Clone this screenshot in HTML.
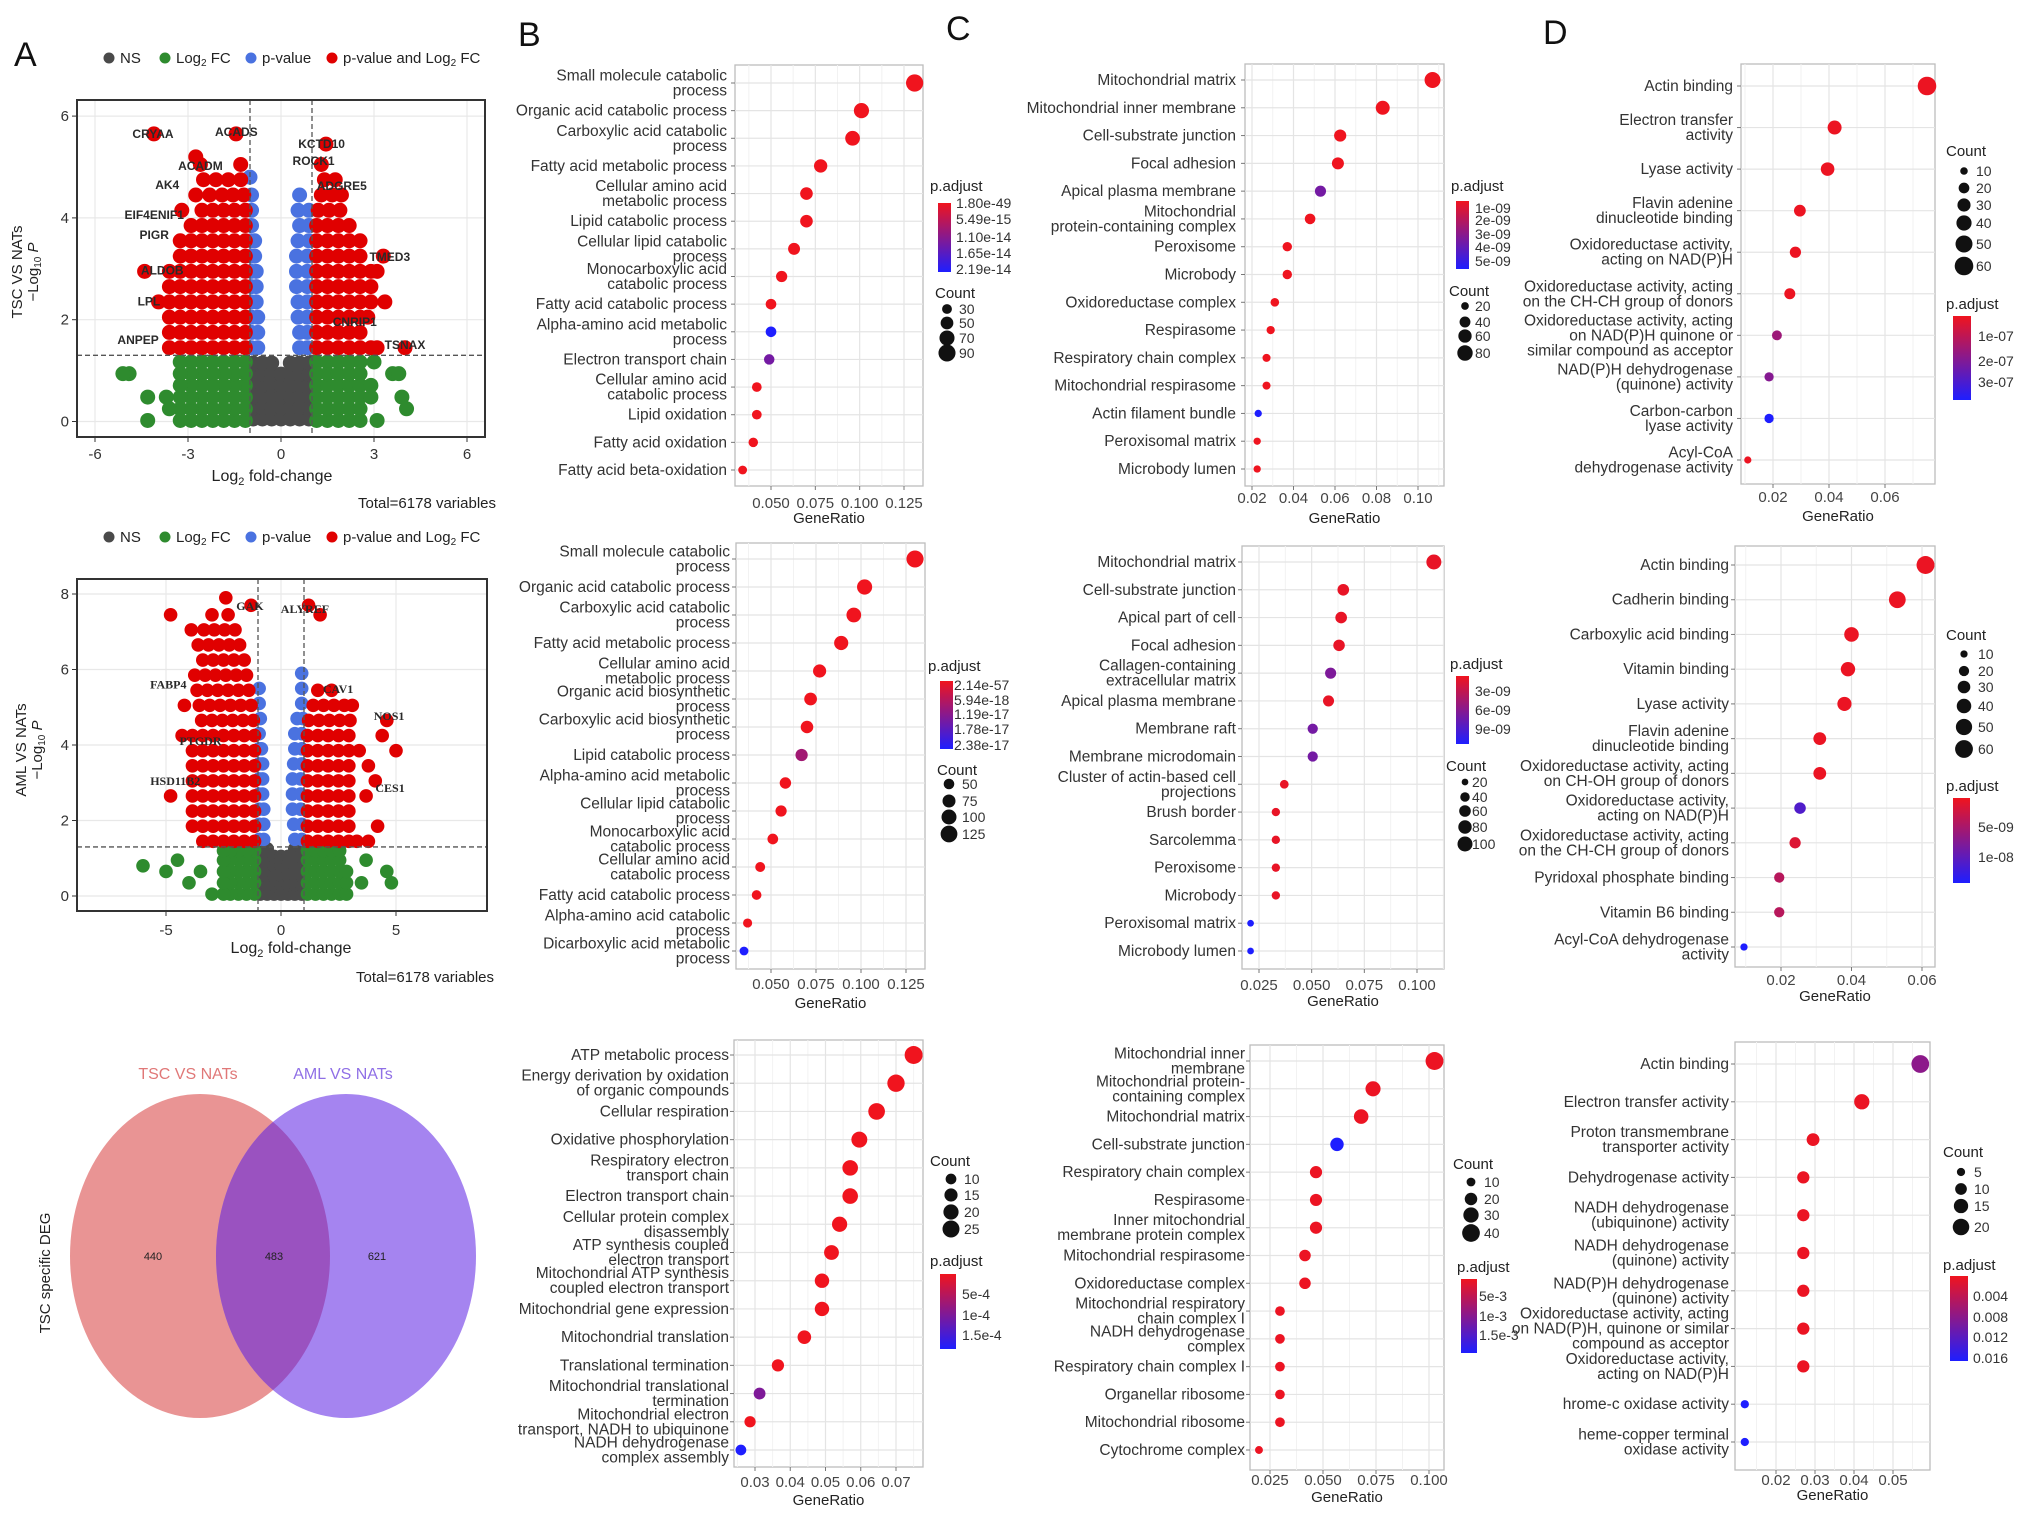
<!DOCTYPE html>
<html><head><meta charset="utf-8"><style>
html,body{margin:0;padding:0;background:#fff;}
svg{display:block;font-family:"Liberation Sans",Arial,sans-serif;}
</style></head><body>
<svg id="fig" width="2032" height="1521" viewBox="0 0 2032 1521" xmlns="http://www.w3.org/2000/svg">
<defs>
<linearGradient id="pgrad" x1="0" y1="0" x2="0" y2="1"><stop offset="0" stop-color="#f0141e"/><stop offset="1" stop-color="#1e1eff"/></linearGradient>
<clipPath id="vennClip"><ellipse cx="200" cy="1256" rx="130" ry="162"/></clipPath>
</defs>
<g font-size="34" fill="#111">
<text x="14" y="66">A</text>
<text x="518" y="46">B</text>
<text x="946" y="40">C</text>
<text x="1543" y="44">D</text>
</g>
<g>
<ellipse cx="200" cy="1256" rx="130" ry="162" fill="#e99494"/>
<ellipse cx="346" cy="1256" rx="130" ry="162" fill="#a584f0"/>
<ellipse cx="346" cy="1256" rx="130" ry="162" fill="#9a52c0" clip-path="url(#vennClip)"/>
<text x="188" y="1079" font-size="16" fill="#e07878" text-anchor="middle">TSC VS NATs</text>
<text x="343" y="1079" font-size="16" fill="#8f6fe6" text-anchor="middle">AML VS NATs</text>
<text x="153" y="1260" font-size="11" text-anchor="middle" fill="#222">440</text>
<text x="274" y="1260" font-size="11" text-anchor="middle" fill="#222">483</text>
<text x="377" y="1260" font-size="11" text-anchor="middle" fill="#222">621</text>
<text transform="translate(50,1273) rotate(-90)" font-size="15" text-anchor="middle" fill="#222">TSC specific DEG</text>
</g>
</svg>
<script>
// ---------------- DATA ----------------
const topNSRows=[[0.05,[-0.9,-0.6,-0.3,0,0.3,0.6,0.9]],[0.27,[-0.9,-0.6,-0.3,0,0.3,0.6,0.9]],[0.49,[-0.9,-0.6,-0.3,0,0.3,0.6,0.9]],[0.71,[-0.9,-0.6,-0.3,0,0.3,0.6,0.9]],[0.93,[-0.9,-0.6,-0.3,0,0.3,0.6,0.9]],[1.15,[-0.9,-0.6,-0.3,0.3,0.6,0.9]]];
const topFCRows=[[0.02,[-1.15,-1.5,-1.85,-2.2,-2.55,-2.9,-3.25,-4.3,1.15,1.5,1.85,2.2,2.55,3.1]],[0.25,[-1.15,-1.5,-1.85,-2.2,-2.55,-2.9,-3.25,-3.6,1.15,1.5,1.85,2.2,2.55,4.05]],[0.48,[-1.15,-1.5,-1.85,-2.2,-2.55,-2.9,-3.25,-3.7,-4.3,1.15,1.5,1.85,2.2,2.55,2.9,3.9]],[0.71,[-1.15,-1.5,-1.85,-2.2,-2.55,-2.9,-3.25,1.15,1.5,1.85,2.2,2.55,2.9]],[0.94,[-1.15,-1.5,-1.85,-2.2,-2.55,-2.9,-3.25,-4.9,-5.1,1.15,1.5,1.85,2.2,2.55,3.6,3.8]],[1.17,[-1.15,-1.5,-1.85,-2.2,-2.55,-2.9,-3.25,1.15,1.5,1.85,2.2,2.55,3.0]]];
const topPRows=[[1.45,[-0.95,-0.75,0.6,0.85]],[1.75,[-0.95,-0.75,0.6,0.85]],[2.05,[-0.95,-0.75,0.55,0.85]],[2.35,[-0.95,-0.8,0.55,0.85]],[2.65,[-0.95,-0.8,0.5,0.85]],[2.95,[-0.95,-0.8,0.5,0.85]],[3.25,[-0.95,-0.85,0.5,0.85]],[3.55,[-0.95,-0.85,0.55,0.9]],[3.85,[-0.95,0.6,0.9]],[4.15,[-0.95,0.55,0.9]],[4.45,[-0.95,0.6]],[4.8,[-1.0]]];
const topSigRows=[[1.45,[-1.15,-1.5,-1.85,-2.2,-2.55,-2.9,-3.25,-3.6,1.15,1.5,1.85,2.2,2.55,2.9,3.1,4.0]],[1.75,[-1.15,-1.5,-1.85,-2.2,-2.55,-2.9,-3.25,-3.6,1.15,1.5,1.85,2.2,2.55]],[2.05,[-1.15,-1.5,-1.85,-2.2,-2.55,-2.9,-3.25,-3.6,1.15,1.5,1.85,2.2,2.55,2.8]],[2.35,[-1.15,-1.5,-1.85,-2.2,-2.55,-2.9,-3.25,-3.6,-3.95,1.15,1.5,1.85,2.2,2.55,2.9,3.35]],[2.65,[-1.15,-1.5,-1.85,-2.2,-2.55,-2.9,-3.25,-3.6,1.15,1.5,1.85,2.2,2.55,2.9]],[2.95,[-1.15,-1.5,-1.85,-2.2,-2.55,-2.9,-3.25,-3.6,-4.4,1.15,1.5,1.85,2.2,2.55,2.9,3.1]],[3.25,[-1.15,-1.5,-1.85,-2.2,-2.55,-2.9,-3.25,1.15,1.5,1.85,2.2,2.55,3.3]],[3.55,[-1.15,-1.5,-1.85,-2.2,-2.55,-2.9,-3.25,1.15,1.5,1.85,2.2,2.55]],[3.85,[-1.15,-1.5,-1.85,-2.2,-2.55,-2.9,1.15,1.5,1.85,2.2]],[4.15,[-1.15,-1.5,-1.85,-2.2,-2.55,-3.2,1.2,1.55,1.9]],[4.45,[-1.2,-1.55,-1.9,-2.3,-2.75,1.3,1.65,1.95]],[4.75,[-1.3,-1.7,-2.1,-2.5,1.4,1.75]],[5.05,[-1.3,-2.6,1.3]],[5.2,[-2.75]],[5.45,[1.45]],[5.65,[-4.1,-1.45]]];
const topGenes=['CRYAA','ACADS','KCTD10','ROCK1','ACADM','AK4','ADGRE5','EIF4ENIF1','PIGR','ALDOB','LPL','TMED3','CNRIP1','ANPEP','TSNAX'];
const topGeneX=[-4.13,-1.44,1.31,1.05,-2.6,-3.67,1.96,-4.09,-4.09,-3.83,-4.26,3.51,2.38,-4.61,4.0];
const topGeneY=[5.65,5.69,5.45,5.12,5.02,4.65,4.63,4.06,3.66,2.97,2.36,3.23,1.95,1.6,1.5];
const topXTicks=[-6,-3,0,3,6];
const topYTicks=[0,2,4,6];
const midNSRows=[[0.05,[-0.9,-0.6,-0.3,0,0.3,0.6,0.9]],[0.3,[-0.9,-0.6,-0.3,0,0.3,0.6,0.9]],[0.55,[-0.9,-0.6,-0.3,0,0.3,0.6,0.9]],[0.8,[-0.9,-0.6,-0.3,0,0.3,0.6,0.9]],[1.05,[-0.9,-0.6,-0.3,0,0.3,0.6,0.9]],[1.25,[-0.9,-0.6,0.6,0.9]]];
const midFCRows=[[0.05,[-1.15,-1.5,-1.85,-2.2,-2.5,-3.0,1.15,1.5,1.85,2.2,2.55,2.85]],[0.35,[-1.15,-1.5,-1.85,-2.2,-2.5,-4.0,1.15,1.5,1.85,2.2,2.55,2.85,3.5,4.8]],[0.65,[-1.15,-1.5,-1.85,-2.2,-2.5,-3.5,-5.0,1.15,1.5,1.85,2.2,2.55,2.85,4.6]],[0.8,[-6.0]],[0.95,[-1.15,-1.5,-1.85,-2.2,-2.5,-4.5,1.15,1.5,1.85,2.2,2.55,3.7]],[1.2,[-1.15,-1.5,-1.85,-2.2,-2.5,1.15,1.5,1.85,2.2,2.55]]];
const midPRows=[[1.5,[-0.95,-0.75,0.6,0.9]],[1.9,[-0.95,-0.75,0.55,0.9]],[2.3,[-0.95,-0.75,0.5,0.85]],[2.7,[-0.95,-0.8,0.5,0.85]],[3.1,[-0.95,-0.8,0.5,0.85]],[3.5,[-0.95,-0.8,0.55,0.9]],[3.9,[-0.95,-0.85,0.6,0.9]],[4.3,[-0.95,0.6,0.9]],[4.7,[-0.9,0.7,0.95]],[5.1,[-0.95,0.9]],[5.5,[-0.95,0.9]],[5.9,[0.9]]];
const midSigRows=[[1.45,[-1.15,-1.6,-2.05,-2.5,-2.95,-3.4,1.15,1.6,2.05,2.5,2.95,3.3,3.8]],[1.85,[-1.15,-1.6,-2.05,-2.5,-2.95,-3.4,-3.85,1.15,1.6,2.05,2.5,2.95,4.2]],[2.25,[-1.15,-1.6,-2.05,-2.5,-2.95,-3.4,-3.85,1.15,1.6,2.05,2.5,2.95]],[2.65,[-1.15,-1.6,-2.05,-2.5,-2.95,-3.4,-3.85,-4.8,1.15,1.6,2.05,2.5,2.95,3.7]],[3.05,[-1.15,-1.6,-2.05,-2.5,-2.95,-3.4,-3.85,1.15,1.6,2.05,2.5,2.95,4.1]],[3.45,[-1.15,-1.6,-2.05,-2.5,-2.95,-3.4,-3.85,1.15,1.6,2.05,2.5,2.95,3.8]],[3.85,[-1.15,-1.6,-2.05,-2.5,-2.95,-3.4,-3.85,1.15,1.6,2.05,2.5,2.95,3.4,5.0]],[4.25,[-1.15,-1.6,-2.05,-2.5,-2.95,-3.4,-3.85,-4.3,1.15,1.6,2.05,2.5,2.95,4.4]],[4.65,[-1.2,-1.65,-2.1,-2.55,-3.0,-3.45,1.2,1.65,2.1,2.55,3.0,4.6]],[5.05,[-1.3,-1.75,-2.2,-2.65,-3.1,-3.55,-4.2,1.4,1.85,2.3,2.75,3.1]],[5.45,[-1.4,-1.85,-2.3,-2.75,-3.2,-3.65,1.6,2.2]],[5.85,[-1.5,-1.95,-2.4,-2.85,-3.3,-3.75]],[6.25,[-1.6,-2.05,-2.5,-2.95,-3.4]],[6.65,[-1.8,-2.25,-2.7,-3.15,-3.6]],[7.05,[-2.0,-2.45,-2.9,-3.35,-3.9]],[7.45,[-2.3,-3.0,-4.8,1.7]],[7.7,[-1.3,1.2]],[7.9,[-2.4]]];
const midGenes=['GAK','ALYREF','NOS1','HSD11B2','CAV1','CES1','FABP4','PTGDR'];
const midGeneX=[-1.35,1.04,4.7,-4.6,2.48,4.74,-4.9,-3.5];
const midGeneY=[7.68,7.6,4.77,3.05,5.48,2.86,5.6,4.1];
const midXTicks=[-5,0,5];
const midYTicks=[0,2,4,6,8];

const bTopTerms=["Small molecule catabolic\nprocess","Organic acid catabolic process","Carboxylic acid catabolic\nprocess","Fatty acid metabolic process","Cellular amino acid\nmetabolic process","Lipid catabolic process","Cellular lipid catabolic\nprocess","Monocarboxylic acid\ncatabolic process","Fatty acid catabolic process","Alpha-amino acid metabolic\nprocess","Electron transport chain","Cellular amino acid\ncatabolic process","Lipid oxidation","Fatty acid oxidation","Fatty acid beta-oxidation"];
const bTopRatio=[0.131,0.101,0.096,0.078,0.070,0.070,0.063,0.056,0.050,0.050,0.049,0.042,0.042,0.040,0.034];
const bTopCount=[92,71,67,55,49,49,44,39,35,35,34,29,29,28,24];
const bTopPadj=[1e-20,1e-20,1e-20,1e-20,1e-20,1e-20,1e-20,1e-20,1e-20,2.2e-14,1.3e-14,1e-20,1e-20,1e-20,1e-20];
const bTopTicks=[0.05,0.075,0.1,0.125];
const bTopTickLabels=["0.050","0.075","0.100","0.125"];
const bTopPLabels=["1.80e-49","5.49e-15","1.10e-14","1.65e-14","2.19e-14"];
const bTopCountLegend=[30,50,70,90];
const cTopTerms=["Mitochondrial matrix","Mitochondrial inner membrane","Cell-substrate junction","Focal adhesion","Apical plasma membrane","Mitochondrial\nprotein-containing complex","Peroxisome","Microbody","Oxidoreductase complex","Respirasome","Respiratory chain complex","Mitochondrial respirasome","Actin filament bundle","Peroxisomal matrix","Microbody lumen"];
const cTopRatio=[0.107,0.083,0.0625,0.0614,0.053,0.048,0.037,0.037,0.031,0.029,0.027,0.027,0.023,0.0225,0.0225];
const cTopCount=[86,66,50,49,42,38,30,30,25,23,22,22,18,18,18];
const cTopPadj=[5e-10,5e-10,5e-10,5e-10,3.5e-9,5e-10,5e-10,5e-10,5e-10,5e-10,5e-10,5e-10,5.6e-9,5e-10,5e-10];
const cTopTicks=[0.02,0.04,0.06,0.08,0.10];
const cTopTickLabels=["0.02","0.04","0.06","0.08","0.10"];
const cTopPLabels=["1e-09","2e-09","3e-09","4e-09","5e-09"];
const cTopCountLegend=[20,40,60,80];
const dTopTerms=["Actin binding","Electron transfer\nactivity","Lyase activity","Flavin adenine\ndinucleotide binding","Oxidoreductase activity,\nacting on NAD(P)H","Oxidoreductase activity, acting\non the CH-CH group of donors","Oxidoreductase activity, acting\non NAD(P)H quinone or\nsimilar compound as acceptor","NAD(P)H dehydrogenase\n(quinone) activity","Carbon-carbon\nlyase activity","Acyl-CoA\ndehydrogenase activity"];
const dTopRatio=[0.075,0.042,0.0395,0.0296,0.028,0.026,0.0214,0.0186,0.0186,0.011];
const dTopCount=[60,34,32,24,22,21,17,15,15,9];
const dTopPadj=[2e-8,2e-8,2e-8,2e-8,2e-8,2e-8,1.6e-7,2e-7,3.8e-7,2e-8];
const dTopTicks=[0.02,0.04,0.06];
const dTopTickLabels=["0.02","0.04","0.06"];
const dTopPLabels=["1e-07","2e-07","3e-07"];
const dTopCountLegend=[10,20,30,40,50,60];
const bMidTerms=["Small molecule catabolic\nprocess","Organic acid catabolic process","Carboxylic acid catabolic\nprocess","Fatty acid metabolic process","Cellular amino acid\nmetabolic process","Organic acid biosynthetic\nprocess","Carboxylic acid biosynthetic\nprocess","Lipid catabolic process","Alpha-amino acid metabolic\nprocess","Cellular lipid catabolic\nprocess","Monocarboxylic acid\ncatabolic process","Cellular amino acid\ncatabolic process","Fatty acid catabolic process","Alpha-amino acid catabolic\nprocess","Dicarboxylic acid metabolic\nprocess"];
const bMidRatio=[0.130,0.102,0.096,0.089,0.077,0.072,0.070,0.067,0.058,0.0556,0.051,0.044,0.042,0.037,0.035];
const bMidCount=[130,102,96,89,77,72,70,67,58,56,51,44,42,37,35];
const bMidPadj=[1e-20,1e-20,1e-20,1e-20,1e-20,1e-20,1e-20,0.9e-17,1e-20,1e-20,1e-20,1e-20,1e-20,1e-20,2.4e-17];
const bMidTicks=[0.05,0.075,0.1,0.125];
const bMidTickLabels=["0.050","0.075","0.100","0.125"];
const bMidPLabels=["2.14e-57","5.94e-18","1.19e-17","1.78e-17","2.38e-17"];
const bMidCountLegend=[50,75,100,125];
const cMidTerms=["Mitochondrial matrix","Cell-substrate junction","Apical part of cell","Focal adhesion","Callagen-containing\nextracellular matrix","Apical plasma membrane","Membrane raft","Membrane microdomain","Cluster of actin-based cell\nprojections","Brush border","Sarcolemma","Peroxisome","Microbody","Peroxisomal matrix","Microbody lumen"];
const cMidRatio=[0.108,0.065,0.064,0.063,0.059,0.058,0.0505,0.0505,0.037,0.033,0.033,0.033,0.033,0.021,0.021];
const cMidCount=[100,60,60,59,55,54,47,47,34,31,31,31,31,20,20];
const cMidPadj=[1e-9,1e-9,1e-9,1e-9,6.5e-9,1e-9,7e-9,7e-9,1e-9,1e-9,1e-9,1e-9,1e-9,11.4e-9,11.4e-9];
const cMidTicks=[0.025,0.05,0.075,0.1];
const cMidTickLabels=["0.025","0.050","0.075","0.100"];
const cMidPLabels=["3e-09","6e-09","9e-09"];
const cMidCountLegend=[20,40,60,80,100];
const dMidTerms=["Actin binding","Cadherin binding","Carboxylic acid binding","Vitamin binding","Lyase activity","Flavin adenine\ndinucleotide binding","Oxidoreductase activity, acting\non CH-OH group of donors","Oxidoreductase activity,\nacting on NAD(P)H","Oxidoreductase activity, acting\non the CH-CH group of donors","Pyridoxal phosphate binding","Vitamin B6 binding","Acyl-CoA dehydrogenase\nactivity"];
const dMidRatio=[0.061,0.053,0.040,0.039,0.038,0.031,0.031,0.0254,0.024,0.0195,0.0195,0.0095];
const dMidCount=[61,53,40,39,38,31,31,25,24,20,20,10];
const dMidPadj=[5e-10,5e-10,5e-10,5e-10,5e-10,5e-10,5e-10,1.1e-8,1.5e-9,4e-9,4e-9,1.43e-8];
const dMidTicks=[0.02,0.04,0.06];
const dMidTickLabels=["0.02","0.04","0.06"];
const dMidPLabels=["5e-09","1e-08"];
const dMidCountLegend=[10,20,30,40,50,60];
const bBotTerms=["ATP metabolic process","Energy derivation by oxidation\nof organic compounds","Cellular respiration","Oxidative phosphorylation","Respiratory electron\ntransport chain","Electron transport chain","Cellular protein complex\ndisassembly","ATP synthesis coupled\nelectron transport","Mitochondrial ATP synthesis\ncoupled electron transport","Mitochondrial gene expression","Mitochondrial translation","Translational termination","Mitochondrial translational\ntermination","Mitochondrial electron\ntransport, NADH to ubiquinone","NADH dehydrogenase\ncomplex assembly"];
const bBotRatio=[0.075,0.070,0.0645,0.0596,0.057,0.057,0.054,0.0517,0.049,0.049,0.044,0.0365,0.0313,0.0286,0.026];
const bBotCount=[28,26,24,22,21,21,20,19,18,18,16,13,12,11,10];
const bBotPadj=[1e-6,1e-6,1e-6,1e-6,1e-6,1e-6,1e-6,1e-6,1e-6,1e-6,1e-6,1e-6,1.0e-4,1e-6,1.84e-4];
const bBotTicks=[0.03,0.04,0.05,0.06,0.07];
const bBotTickLabels=["0.03","0.04","0.05","0.06","0.07"];
const bBotPLabels=["5e-4","1e-4","1.5e-4"];
const bBotCountLegend=[10,15,20,25];
const cBotTerms=["Mitochondrial inner\nmembrane","Mitochondrial protein-\ncontaining complex","Mitochondrial matrix","Cell-substrate junction","Respiratory chain complex","Respirasome","Inner mitochondrial\nmembrane protein complex","Mitochondrial respirasome","Oxidoreductase complex","Mitochondrial respiratory\nchain complex I","NADH dehydrogenase\ncomplex","Respiratory chain complex I","Organellar ribosome","Mitochondrial ribosome","Cytochrome complex"];
const cBotRatio=[0.1026,0.0736,0.068,0.0566,0.0467,0.0467,0.0467,0.0415,0.0415,0.0297,0.0297,0.0297,0.0297,0.0297,0.0198];
const cBotCount=[41,29,27,23,19,19,19,17,17,12,12,12,12,12,8];
const cBotPadj=[1e-4,1e-4,1e-4,1.96e-3,1e-4,1e-4,1e-4,1e-4,1e-4,1e-4,1e-4,1e-4,1e-4,1e-4,1e-4];
const cBotTicks=[0.025,0.05,0.075,0.1];
const cBotTickLabels=["0.025","0.050","0.075","0.100"];
const cBotPLabels=["5e-3","1e-3","1.5e-3"];
const cBotCountLegend=[10,20,30,40];
const dBotTerms=["Actin binding","Electron transfer activity","Proton transmembrane\ntransporter activity","Dehydrogenase activity","NADH dehydrogenase\n(ubiquinone) activity","NADH dehydrogenase\n(quinone) activity","NAD(P)H dehydrogenase\n(quinone) activity","Oxidoreductase activity, acting\non NAD(P)H, quinone or similar\ncompound as acceptor","Oxidoreductase activity,\nacting on NAD(P)H","hrome-c oxidase activity","heme-copper terminal\noxidase activity"];
const dBotRatio=[0.057,0.042,0.0295,0.027,0.027,0.027,0.027,0.027,0.027,0.012,0.012];
const dBotCount=[23,17,12,11,11,11,11,11,11,5,5];
const dBotPadj=[0.008,0.0005,0.0005,0.0005,0.0005,0.0005,0.0005,0.0005,0.0005,0.0166,0.0166];
const dBotTicks=[0.02,0.03,0.04,0.05];
const dBotTickLabels=["0.02","0.03","0.04","0.05"];
const dBotPLabels=["0.004","0.008","0.012","0.016"];
const dBotCountLegend=[5,10,15,20];

// ---------------- DRAWING ----------------
const NS='http://www.w3.org/2000/svg';
const svg=document.getElementById('fig');
function mk(tag,attrs,parent){const e=document.createElementNS(NS,tag);for(const k in attrs)e.setAttribute(k,attrs[k]);(parent||svg).appendChild(e);return e;}
function colorAt(t){t=Math.max(0,Math.min(1,t));const r=Math.round(240*(1-t)+30*t),g=Math.round(20*(1-t)+30*t),b=Math.round(30*(1-t)+255*t);return `rgb(${r},${g},${b})`;}

function volcano(cfg,groups,genes,gx,gy,xt,yt){
  const g=mk('g',{});
  
  
  const sx=v=>cfg.x0+v*cfg.kx, sy=v=>cfg.y0-v*cfg.ky;
  const [bx0,bx1,by0,by1]=cfg.box;
  const bg=mk('rect',{x:bx0,y:by0,width:bx1-bx0,height:by1-by0,fill:'#fff'},g);
  
  
  for(const v of xt){const l=mk('line',{x1:sx(v),x2:sx(v),y1:by0,y2:by1,stroke:'#e8e8e8','stroke-width':1.2},g);
    
    }
  for(const v of yt){const l=mk('line',{x1:bx0,x2:bx1,y1:sy(v),y2:sy(v),stroke:'#e8e8e8','stroke-width':1.2},g);
    
    }
  for(const grp of groups){
    const gg=mk('g',{fill:grp.color},g);
    
    
    for(const row of grp.rows){for(const x of row[1]){
      const c=mk('circle',{cx:sx(x),cy:sy(row[0]),r:cfg.r},gg);
      
      }}
  }
  for(const v of [-1,1]){const l=mk('line',{x1:sx(v),x2:sx(v),y1:by0,y2:by1,stroke:'#555','stroke-dasharray':'5,3','stroke-width':1.3},g);
    
    }
  const hl=mk('line',{x1:bx0,x2:bx1,y1:sy(1.3),y2:sy(1.3),stroke:'#555','stroke-dasharray':'5,3','stroke-width':1.3},g);
  
  
  genes.forEach((nm,i)=>{const t=mk('text',{x:sx(gx[i]),y:sy(gy[i])+4,'font-size':12,'font-weight':'bold','text-anchor':'middle',fill:'#2a2a2a','font-family':cfg.geneFont},g);
    t.textContent=nm;
    
    });
  const fr=mk('rect',{x:bx0,y:by0,width:bx1-bx0,height:by1-by0,fill:'none',stroke:'#333','stroke-width':2},g);
  
  
  for(const v of xt){mk('line',{x1:sx(v),x2:sx(v),y1:by1,y2:by1+5,stroke:'#333'},g);
    const t=mk('text',{x:sx(v),y:cfg.xtY,'font-size':15,'text-anchor':'middle',fill:'#333'},g);
    t.textContent=String(v);
    
    }
  for(const v of yt){mk('line',{x1:bx0-5,x2:bx0,y1:sy(v),y2:sy(v),stroke:'#333'},g);
    const t=mk('text',{x:bx0-8,y:sy(v)+5,'font-size':15,'text-anchor':'end',fill:'#333'},g);
    t.textContent=String(v);
    
    }
  const xtl=mk('text',{x:cfg.xTitle[0],y:cfg.xTitle[1],'font-size':16,'text-anchor':'middle',fill:'#222'},g);
  xtl.innerHTML='Log<tspan font-size="11" dy="4">2</tspan><tspan dy="-4"> fold-change</tspan>';
  
  
  const yt1=mk('text',{transform:`translate(${cfg.yTitle[0]},${cfg.yTitle[1]}) rotate(-90)`,'font-size':15,'text-anchor':'middle',fill:'#222'},g);
  yt1.innerHTML=`<tspan x="0" y="0">${cfg.comp}</tspan><tspan x="0" y="16">−Log<tspan font-size="10" dy="3">10</tspan><tspan dy="-3" font-style="italic"> P</tspan></tspan>`;
  
  
  const tot=mk('text',{x:cfg.total[0],y:cfg.total[1],'font-size':15,'text-anchor':'end',fill:'#222'},g);
  tot.textContent='Total=6178 variables';
  
  
  const lg=mk('g',{'font-size':15,fill:'#222'},g);
  
  
  const items=[['#4a4a4a','NS',109],['#2e8b2e','Log2 FC',165],['#4a72e0','p-value',251],['#e00000','p-value and Log2 FC',332]];
  for(const it of items){
    const c=mk('circle',{cx:it[2],cy:cfg.legY,r:5.5,fill:it[0]},lg);
    
    
    const t=mk('text',{x:it[2]+11,y:cfg.legY+5},lg);
    if(it[1].indexOf('Log2')>=0){t.innerHTML=it[1].replace('Log2','Log<tspan font-size="10" dy="3">2</tspan><tspan dy="-3">')+'</tspan>';}else{t.textContent=it[1];}
    
    
  }
}

function dotChart(cfg,terms,ratio,count,padj,ticks,tickLabels,pLabels,cLegend){
  const g=mk('g',{});
  
  
  const [x0,x1,y0,y1]=cfg.box;
  const t0=ticks[0],t1=ticks[ticks.length-1];
  const sx=v=>cfg.p1+(v-t0)*(cfg.p2-cfg.p1)/(t1-t0);
  const n=terms.length;
  const sy=i=>cfg.r0+i*(cfg.r1-cfg.r0)/(n-1);
  const pc=v=>(v-cfg.pd[0])/(cfg.pd[1]-cfg.pd[0]);
  const bg=mk('rect',{x:x0,y:y0,width:x1-x0,height:y1-y0,fill:'#fff',stroke:'#bdbdbd','stroke-width':1.3},g);
  
  
  const step=(cfg.p2-cfg.p1)/(ticks.length-1);
  for(let k=-2;k<ticks.length+1;k++){const px=cfg.p1+(k+0.5)*step;if(px>x0&&px<x1){mk('line',{x1:px,x2:px,y1:y0,y2:y1,stroke:'#f2f2f2'},g);}}
  ticks.forEach((v,i)=>{const l=mk('line',{x1:sx(v),x2:sx(v),y1:y0,y2:y1,stroke:'#e4e4e4','stroke-width':1.2},g);
    
    
    mk('line',{x1:sx(v),x2:sx(v),y1:y1,y2:y1+4,stroke:'#777'},g);
    const t=mk('text',{x:sx(v),y:cfg.tickY,'font-size':15,'text-anchor':'middle',fill:'#444'},g);
    t.textContent=tickLabels[i];
    
    });
  const tt=mk('text',{x:(x0+x1)/2,y:cfg.titleY,'font-size':15,'text-anchor':'middle',fill:'#222'},g);
  tt.textContent='GeneRatio';
  
  
  terms.forEach((term,i)=>{
    const y=sy(i);
    const l=mk('line',{x1:x0,x2:x1,y1:y,y2:y,stroke:'#e4e4e4','stroke-width':1.2},g);
    
    
    mk('line',{x1:x0-4,x2:x0,y1:y,y2:y,stroke:'#777'},g);
    const lines=term.split('\n');
    const t=mk('text',{'font-size':15.5,'text-anchor':'end',fill:'#333'},g);
    lines.forEach((ln,j)=>{const ts=mk('tspan',{x:cfg.labelX,y:y+(j-(lines.length-1)/2)*15+5},t);ts.textContent=ln;});
    
    
  });
  terms.forEach((term,i)=>{
    const c=mk('circle',{cx:sx(ratio[i]),cy:sy(i),r:cfg.rs*Math.sqrt(count[i]),fill:colorAt(pc(padj[i]))},g);
    
    
  });
  const L=cfg.leg;
  const pt=mk('text',{x:L.pT[0],y:L.pT[1]+5,'font-size':15,fill:'#222'},g);
  pt.textContent='p.adjust';
  
  
  const bar=mk('rect',{x:L.bar[0],y:L.bar[1],width:L.bar[2]-L.bar[0],height:L.bar[3]-L.bar[1],fill:'url(#pgrad)'},g);
  
  
  pLabels.forEach((s,i)=>{const t=mk('text',{x:L.pLabX,y:L.pLabY[i]+5,'font-size':14,fill:'#333'},g);
    t.textContent=s;
    
    });
  const ct=mk('text',{x:L.cT[0],y:L.cT[1]+5,'font-size':15,fill:'#222'},g);
  ct.textContent='Count';
  
  
  cLegend.forEach((v,i)=>{const c=mk('circle',{cx:L.cDotX,cy:L.cDotY[i],r:cfg.rs*Math.sqrt(v),fill:'#111'},g);
    
    
    const t=mk('text',{x:L.cLabX,y:L.cDotY[i]+5,'font-size':14,fill:'#333'},g);
    t.textContent=String(v);
    
    });
}

volcano({name:'volcano-tsc',x0:281,kx:31,y0:421.5,ky:50.9,box:[77,485,100,437],r:7.5,xtY:459,yTitle:[22,272],comp:'TSC VS NATs',xTitle:[272,481],total:[496,508],legY:58,geneFont:'"Liberation Sans",sans-serif'},
 [{name:'ns-points',color:'#4a4a4a',rows:topNSRows},{name:'log2fc-points',color:'#2e8b2e',rows:topFCRows},{name:'pvalue-points',color:'#4a72e0',rows:topPRows},{name:'significant-points',color:'#e00000',rows:topSigRows}],
 topGenes,topGeneX,topGeneY,topXTicks,topYTicks);
volcano({name:'volcano-aml',x0:281,kx:23,y0:896,ky:37.75,box:[77,487,579,911],r:6.8,xtY:935,yTitle:[26,750],comp:'AML VS NATs',xTitle:[291,953],total:[494,982],legY:537,geneFont:'"Liberation Serif",serif'},
 [{name:'ns-points',color:'#4a4a4a',rows:midNSRows},{name:'log2fc-points',color:'#2e8b2e',rows:midFCRows},{name:'pvalue-points',color:'#4a72e0',rows:midPRows},{name:'significant-points',color:'#e00000',rows:midSigRows}],
 midGenes,midGeneX,midGeneY,midXTicks,midYTicks);

dotChart({name:'dotplot-b-top',box:[735,923,65,486],p1:771,p2:904,r0:83,r1:470,labelX:727,tickY:508,titleY:523,rs:0.9,pd:[0,2.2e-14],
 leg:{pT:[930,186],bar:[938,203,951,272],pLabX:956,pLabY:[203,219,237,253,269],cT:[935,293],cDotX:947,cDotY:[309,323,338,353],cLabX:959}},
 bTopTerms,bTopRatio,bTopCount,bTopPadj,bTopTicks,bTopTickLabels,bTopPLabels,bTopCountLegend);
dotChart({name:'dotplot-c-top',box:[1245,1444,64,486],p1:1252,p2:1418,r0:80,r1:469,labelX:1236,tickY:503,titleY:523,rs:0.86,pd:[0.47e-9,5.6e-9],
 leg:{pT:[1451,186],bar:[1456,201,1469,269],pLabX:1475,pLabY:[208,220,234,247,261],cT:[1449,291],cDotX:1465,cDotY:[306,322,336,353],cLabX:1475}},
 cTopTerms,cTopRatio,cTopCount,cTopPadj,cTopTicks,cTopTickLabels,cTopPLabels,cTopCountLegend);
dotChart({name:'dotplot-d-top',box:[1741,1935,64,484],p1:1773,p2:1885,r0:86,r1:460,labelX:1733,tickY:502,titleY:521,rs:1.2,pd:[0.13e-7,3.8e-7],
 leg:{pT:[1946,304],bar:[1953,316,1971,400],pLabX:1978,pLabY:[336,361,382],cT:[1946,151],cDotX:1964,cDotY:[171,188,205,223,244,266],cLabX:1976}},
 dTopTerms,dTopRatio,dTopCount,dTopPadj,dTopTicks,dTopTickLabels,dTopPLabels,dTopCountLegend);
dotChart({name:'dotplot-b-middle',box:[736,925,543,969],p1:771,p2:906,r0:559,r1:951,labelX:730,tickY:989,titleY:1008,rs:0.75,pd:[0,2.4e-17],
 leg:{pT:[928,666],bar:[940,681,953,749],pLabX:954,pLabY:[685,700,714,729,745],cT:[937,770],cDotX:949,cDotY:[784,801,817,834],cLabX:962}},
 bMidTerms,bMidRatio,bMidCount,bMidPadj,bMidTicks,bMidTickLabels,bMidPLabels,bMidCountLegend);
dotChart({name:'dotplot-c-middle',box:[1242,1444,546,969],p1:1259,p2:1417,r0:562,r1:951,labelX:1236,tickY:990,titleY:1006,rs:0.75,pd:[0.6e-9,11.4e-9],
 leg:{pT:[1450,664],bar:[1456,676,1469,744],pLabX:1475,pLabY:[691,710,729],cT:[1446,766],cDotX:1465,cDotY:[782,797,811,827,844],cLabX:1472}},
 cMidTerms,cMidRatio,cMidCount,cMidPadj,cMidTicks,cMidTickLabels,cMidPLabels,cMidCountLegend);
dotChart({name:'dotplot-d-middle',box:[1735,1935,546,967],p1:1781,p2:1922,r0:565,r1:947,labelX:1729,tickY:985,titleY:1001,rs:1.15,pd:[0.17e-9,1.43e-8],
 leg:{pT:[1946,786],bar:[1953,798,1970,883],pLabX:1978,pLabY:[827,857],cT:[1946,635],cDotX:1964,cDotY:[654,671,687,706,727,749],cLabX:1978}},
 dMidTerms,dMidRatio,dMidCount,dMidPadj,dMidTicks,dMidTickLabels,dMidPLabels,dMidCountLegend);
dotChart({name:'dotplot-b-bottom',box:[734,923,1040,1467],p1:755,p2:896,r0:1055,r1:1450,labelX:729,tickY:1487,titleY:1505,rs:1.7,pd:[0.012e-4,1.84e-4],
 leg:{pT:[930,1261],bar:[940,1274,956,1349],pLabX:962,pLabY:[1294,1315,1335],cT:[930,1161],cDotX:951,cDotY:[1179,1195,1212,1229],cLabX:964}},
 bBotTerms,bBotRatio,bBotCount,bBotPadj,bBotTicks,bBotTickLabels,bBotPLabels,bBotCountLegend);
dotChart({name:'dotplot-c-bottom',box:[1250,1444,1045,1470],p1:1270,p2:1429,r0:1061,r1:1450,labelX:1245,tickY:1485,titleY:1502,rs:1.4,pd:[0.06e-3,1.96e-3],
 leg:{pT:[1457,1267],bar:[1461,1279,1477,1353],pLabX:1479,pLabY:[1296,1316,1335],cT:[1453,1164],cDotX:1471,cDotY:[1182,1199,1215,1233],cLabX:1484}},
 cBotTerms,cBotRatio,cBotCount,cBotPadj,cBotTicks,cBotTickLabels,cBotPLabels,cBotCountLegend);
dotChart({name:'dotplot-d-bottom',box:[1735,1930,1042,1470],p1:1776,p2:1893,r0:1064,r1:1442,labelX:1729,tickY:1485,titleY:1500,rs:1.85,pd:[0.00013,0.0166],
 leg:{pT:[1943,1265],bar:[1950,1276,1968,1361],pLabX:1973,pLabY:[1296,1317,1337,1358],cT:[1943,1152],cDotX:1961,cDotY:[1172,1189,1206,1227],cLabX:1974}},
 dBotTerms,dBotRatio,dBotCount,dBotPadj,dBotTicks,dBotTickLabels,dBotPLabels,dBotCountLegend);
</script>
</body></html>
